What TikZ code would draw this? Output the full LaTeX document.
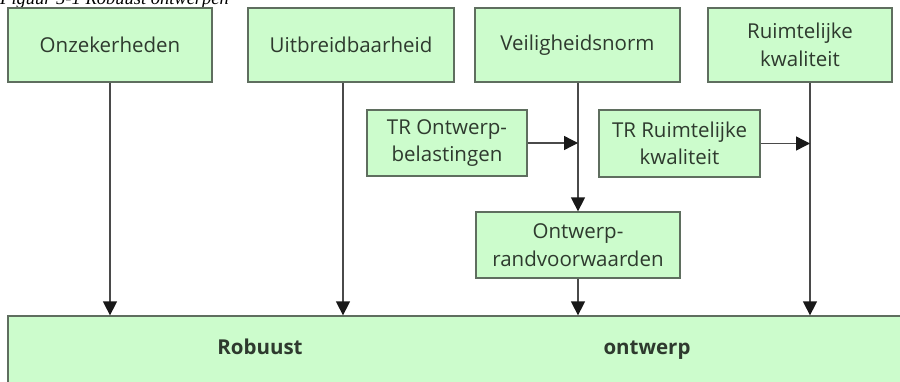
\documentclass[tikz,border=0pt]{standalone}
\usepackage{fontspec}
\setmainfont{Open Sans}
\newfontfamily\capfont{Liberation Serif}
\usetikzlibrary{arrows.meta}
\definecolor{boxfill}{HTML}{CCFCCC}
\definecolor{boxborder}{HTML}{5F6E5F}
\definecolor{linegrey}{HTML}{4A4A4A}
\definecolor{txt}{HTML}{2E3A2E}
\tikzset{
  box/.style={draw=boxborder, fill=boxfill, line width=1.3pt, align=center, inner sep=0pt,
    font=\fontsize{20.5}{27.5}\selectfont, text=txt},
  arr/.style={draw=linegrey, line width=1.4pt, -{Triangle[width=14pt,length=14pt,color=black!90]}},
  bigtxt/.style={font=\fontsize{20.5}{24}\selectfont\bfseries, text=txt, anchor=base, inner sep=0pt}
}
\begin{document}
\begin{tikzpicture}[x=1pt,y=-1pt]
\useasboundingbox (0,0) rectangle (900,381);
\fill[white] (0,0) rectangle (900,381);
\node[anchor=base west, font=\capfont\itshape\fontsize{18.5}{22}\selectfont, inner sep=0pt] (cap) at (0,4) {Figuur 5-1 Robuust ontwerpen};
\node[box, minimum width=204pt, minimum height=74pt] (onz) at (110,45) {Onzekerheden};
\node[box, minimum width=206pt, minimum height=74pt] (uit) at (351,45) {Uitbreidbaarheid};
\node[box, minimum width=205pt, minimum height=74pt] (vei) at (577.5,45) {Veiligheidsnorm};
\node[box, minimum width=184pt, minimum height=74pt] (rui) at (800,45) {Ruimtelijke\\kwaliteit};
\node[box, minimum width=160pt, minimum height=66pt] (tro) at (447,143) {TR Ontwerp-\\belastingen};
\node[box, minimum width=161pt, minimum height=67pt] (trr) at (679.5,143.5) {TR Ruimtelijke\\kwaliteit};
\node[box, minimum width=204pt, minimum height=66pt] (orv) at (578,245) {Ontwerp-\\randvoorwaarden};
\node[box, minimum width=900pt, minimum height=74pt] (rob) at (458,353) {};
\node[bigtxt] (robt) at (260,354) {Robuust};
\node[bigtxt] (ont) at (647,354) {ontwerp};
\coordinate (xo) at (110,0);
\coordinate (xu) at (343,0);
\coordinate (xv) at (578,0);
\coordinate (xr) at (810,0);
\draw[arr] (onz.south -| xo) -- (rob.north -| xo);
\draw[arr] (uit.south -| xu) -- (rob.north -| xu);
\draw[arr] (vei.south -| xv) -- (orv.north -| xv);
\draw[arr] (orv.south -| xv) -- (rob.north -| xv);
\draw[arr] (rui.south -| xr) -- (rob.north -| xr);
\draw[arr] (tro.east) -- (tro.east -| xv);
\draw[arr] (trr.east) -- (trr.east -| xr);
\end{tikzpicture}
\end{document}
